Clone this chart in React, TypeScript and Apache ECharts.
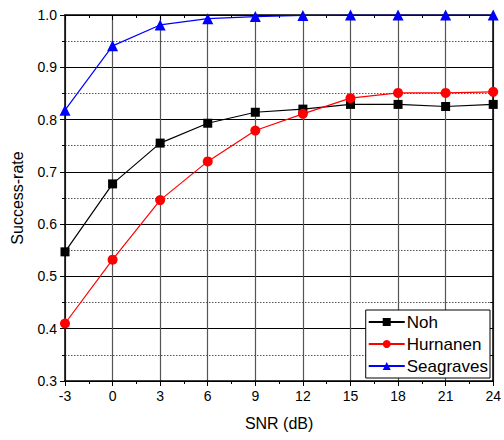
import React, { useEffect, useRef } from "react";
import * as echarts from "echarts";

const snr = [-3, 0, 3, 6, 9, 12, 15, 18, 21, 24];
const noh = [0.547, 0.677, 0.755, 0.793, 0.814, 0.82, 0.829, 0.829, 0.825, 0.829];
const hurnanen = [0.41, 0.532, 0.646, 0.72, 0.779, 0.811, 0.841, 0.851, 0.851, 0.853];
const seagraves = [0.818, 0.941, 0.981, 0.993, 0.997, 0.999, 1.0, 1.0, 1.0, 1.0];

const FONT = "Liberation Sans, Arial, sans-serif";

export default function App() {
  const ref = useRef<HTMLDivElement>(null);
  useEffect(() => {
    if (!ref.current) return;
    const chart = echarts.init(ref.current, null, { renderer: "svg" });
    const pair = (ys: number[]) => snr.map((x, i) => [x, ys[i]]);
    chart.setOption({
      animation: false,
      backgroundColor: "#fff",
      textStyle: { fontFamily: FONT },
      grid: { left: 65, right: 10, top: 15, bottom: 59 },
      legend: {
        orient: "vertical",
        right: 14,
        bottom: 62,
        backgroundColor: "#fff",
        borderColor: "#000",
        borderWidth: 1,
        borderRadius: 0,
        padding: [2, 2, 2, 2],
        itemGap: 2,
        itemWidth: 36,
        itemHeight: 10,
        textStyle: { fontFamily: FONT, fontSize: 17, color: "#000", padding: [0, 0, 0, -3], lineHeight: 20 },
        data: ["Noh", "Hurnanen", "Seagraves"],
      },
      xAxis: [
        {
          type: "value",
          min: -3,
          max: 24,
          interval: 3,
          name: "SNR (dB)",
          nameLocation: "middle",
          nameGap: 34,
          nameTextStyle: { fontFamily: FONT, fontSize: 16, color: "#000" },
          axisLine: { onZero: false, lineStyle: { color: "#000", width: 1.5 } },
          axisTick: { inside: false, length: 5, lineStyle: { color: "#000" } },
          minorTick: { show: true, splitNumber: 2, length: 3, lineStyle: { color: "#000" } },
          axisLabel: { fontFamily: FONT, fontSize: 14, color: "#000", margin: 8 },
          splitLine: { show: true, lineStyle: { color: "#555", width: 1.2 } },
        },
        {
          type: "value",
          position: "top",
          min: -3,
          max: 24,
          interval: 3,
          axisLine: { onZero: false, lineStyle: { color: "#000", width: 1.5 } },
          axisTick: { inside: true, length: 5, lineStyle: { color: "#000" } },
          minorTick: { show: true, splitNumber: 2, length: 3, lineStyle: { color: "#000" } },
          axisLabel: { show: false },
          splitLine: { show: false },
        },
      ],
      yAxis: [
        {
          type: "value",
          min: 0.3,
          max: 1.0,
          interval: 0.1,
          name: "Success-rate",
          nameLocation: "middle",
          nameGap: 40,
          nameTextStyle: { fontFamily: FONT, fontSize: 16, color: "#000" },
          axisLine: { show: true, onZero: false, lineStyle: { color: "#000", width: 1.5 } },
          axisTick: { show: true, inside: false, length: 5, lineStyle: { color: "#000" } },
          minorTick: { show: true, splitNumber: 2, length: 3, lineStyle: { color: "#000" } },
          axisLabel: {
            fontFamily: FONT,
            fontSize: 14,
            color: "#000",
            margin: 8,
            formatter: (v: number) => v.toFixed(1),
          },
          splitLine: { show: true, lineStyle: { color: "#000", width: 1 } },
          minorSplitLine: { show: true, lineStyle: { color: "#555", type: [1.5, 1.5], width: 1 } },
        },
        {
          type: "value",
          position: "right",
          min: 0.3,
          max: 1.0,
          interval: 0.1,
          axisLine: { show: true, onZero: false, lineStyle: { color: "#000", width: 1.5 } },
          axisTick: { show: true, inside: true, length: 5, lineStyle: { color: "#000" } },
          minorTick: { show: true, splitNumber: 2, length: 3, lineStyle: { color: "#000" } },
          axisLabel: { show: false },
          splitLine: { show: false },
        },
      ],
      series: [
        {
          name: "Noh",
          type: "line",
          data: pair(noh),
          symbol: "rect",
          symbolSize: 9,
          itemStyle: { color: "#000" },
          lineStyle: { color: "#000", width: 1.2 },
          z: 4,
        },
        {
          name: "Hurnanen",
          type: "line",
          data: pair(hurnanen),
          symbol: "circle",
          symbolSize: 10,
          itemStyle: { color: "#ff0000" },
          lineStyle: { color: "#ff0000", width: 1.2 },
          z: 4,
        },
        {
          name: "Seagraves",
          type: "line",
          data: pair(seagraves),
          symbol: "triangle",
          symbolSize: 11,
          itemStyle: { color: "#0000ff" },
          lineStyle: { color: "#0000ff", width: 1.2 },
          z: 4,
        },
      ],
    });
    return () => chart.dispose();
  }, []);
  return <div ref={ref} style={{ position: "fixed", left: 0, top: 0, width: 504, height: 440 }} />;
}
